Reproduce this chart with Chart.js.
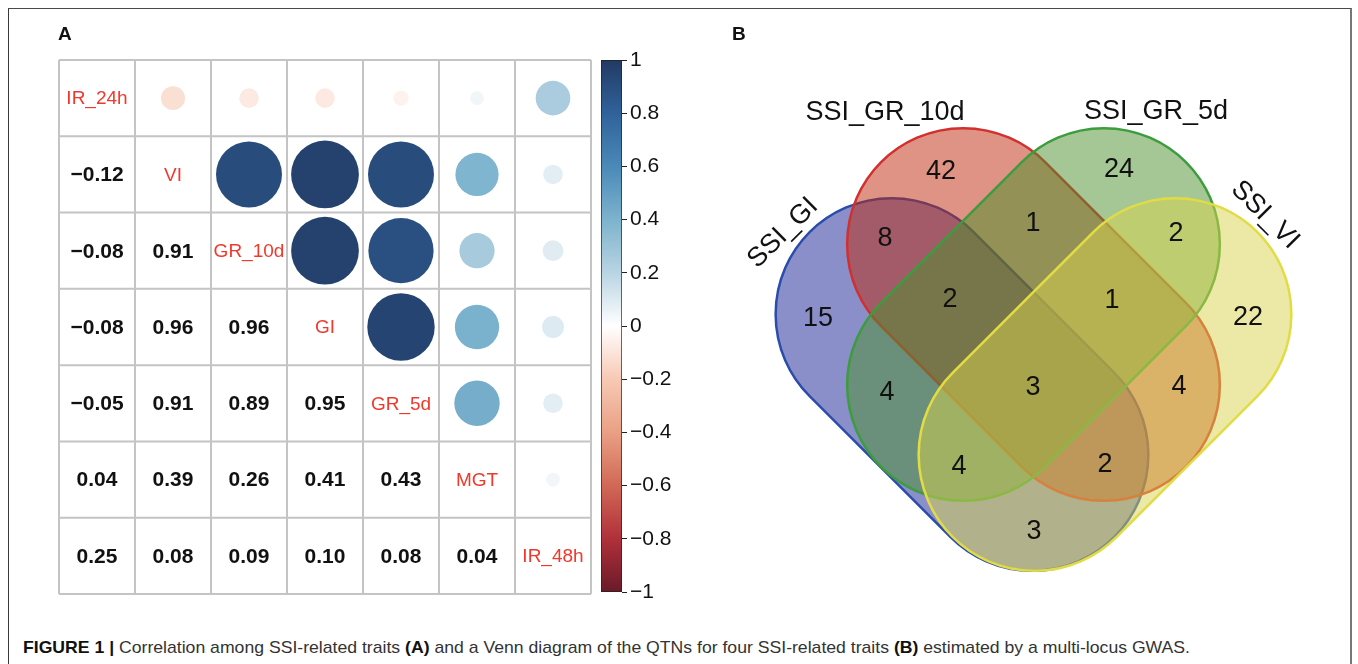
<!DOCTYPE html>
<html>
<head>
<meta charset="utf-8">
<script src="https://cdn.jsdelivr.net/npm/chart.js@4.4.1/dist/chart.umd.min.js"></script>
<style>
html, body { margin: 0; padding: 0; background: #fff; }
body { width: 1358px; height: 664px; position: relative; overflow: hidden; font-family: "Liberation Sans", Arial, sans-serif; }
#frame { position: absolute; left: 8px; top: 8px; width: 1341px; height: 680px; border-left: 1px solid #3a3a3a; border-top: 1px solid #4a4a4a; border-right: 2px solid #777; }
.tag { position: absolute; font-weight: bold; font-size: 19px; color: #111; z-index: 5; }
canvas { position: absolute; }
#corr { left: 0; top: 0; }
#cbar { left: 590px; top: 40px; }
#venn { left: 720px; top: 0; }
#caption { position: absolute; left: 23px; top: 638px; font-size: 17px; color: #333; white-space: nowrap; transform-origin: left center; }
#caption b { color: #111; }
</style>
</head>
<body>
<div id="frame"></div>
<div class="tag" style="left:58px;top:23px;">A</div>
<div class="tag" style="left:732px;top:23px;">B</div>
<canvas id="corr" width="600" height="620"></canvas>
<canvas id="cbar" width="90" height="575"></canvas>
<canvas id="venn" width="600" height="600"></canvas>
<div id="caption"><b>FIGURE 1 |</b> Correlation among SSI-related traits <b>(A)</b> and a Venn diagram of the QTNs for four SSI-related traits <b>(B)</b> estimated by a multi-locus GWAS.</div>

<script>
// ---- panel A data ----
const traits = ["IR_24h", "VI", "GR_10d", "GI", "GR_5d", "MGT", "IR_48h"];
const corrIR24 = [1, -0.12, -0.08, -0.08, -0.05, 0.04, 0.25];
const corrVI   = [-0.12, 1, 0.91, 0.96, 0.91, 0.39, 0.08];
const corrGR10 = [-0.08, 0.91, 1, 0.96, 0.89, 0.26, 0.09];
const corrGI   = [-0.08, 0.96, 0.96, 1, 0.95, 0.41, 0.10];
const corrGR5  = [-0.05, 0.91, 0.89, 0.95, 1, 0.43, 0.08];
const corrMGT  = [0.04, 0.39, 0.26, 0.41, 0.43, 1, 0.04];
const corrIR48 = [0.25, 0.08, 0.09, 0.10, 0.08, 0.04, 1];
const corrRows = [corrIR24, corrVI, corrGR10, corrGI, corrGR5, corrMGT, corrIR48];
const colorbarTicks = [-1, -0.8, -0.6, -0.4, -0.2, 0, 0.2, 0.4, 0.6, 0.8, 1];

// ---- panel B data ----
const vennSets = ["SSI_GI", "SSI_GR_10d", "SSI_GR_5d", "SSI_VI"];
const vennRegions = ["GI", "GR10", "GR5", "VI", "GI+GR10", "GR10+GR5", "GR5+VI", "GI+GR10+GR5",
  "GR10+GR5+VI", "GI+GR5", "all", "GR10+VI", "GI+GR5+VI", "GI+GR10+VI", "GI+VI"];
const vennCounts = [15, 42, 24, 22, 8, 1, 2, 2, 1, 4, 3, 4, 4, 2, 3];

// layout for the venn (chart units, 1 unit = 1px)
const vennLabelPos = [[98, 282], [221, 429], [399, 431], [528, 283], [165, 362], [313, 377], [456, 367],
  [230, 301], [392, 300], [167, 208], [313, 213], [459, 214], [239, 134], [385, 136], [314, 69]];
// capsule shapes: centre, axis angle, half length between cap centres, cap radius
const vennShapes = [
  { cx: 242, cy: 215.5, rot: 45, fill: "rgba(21,31,147,0.5)", line: "#2b4cab" },
  { cx: 313.5, cy: 285.5, rot: 45, fill: "rgba(190,40,10,0.5)", line: "#d2302f" },
  { cx: 313.5, cy: 285.5, rot: -45, fill: "rgba(75,143,43,0.5)", line: "#3d9c3d" },
  { cx: 385, cy: 215.5, rot: -45, fill: "rgba(217,211,77,0.5)", line: "#e2dc44" }
];
const capsuleHalf = 99.5, capsuleRadius = 116;
const vennSetPos = [[63, 367, -45], [165, 487, 0], [436, 488, 0], [545, 385, 45]];

// colour ramp for correlation
const palette = ["#6a1a28", "#b0303a", "#d16856", "#e9a084", "#f7c9b5", "#ffffff",
  "#b9d4e3", "#7cb3cd", "#4a89b8", "#30629a", "#223a64"];

function hexRgb(h) {
  return [parseInt(h.slice(1, 3), 16), parseInt(h.slice(3, 5), 16), parseInt(h.slice(5, 7), 16)];
}
function corrColor(v) {
  const t = (v + 1) / 2 * (palette.length - 1);
  const i = Math.min(Math.floor(t), palette.length - 2);
  const f = t - i;
  const a = hexRgb(palette[i]), b = hexRgb(palette[i + 1]);
  const c = a.map((x, k) => Math.round(x + (b[k] - x) * f));
  return "rgb(" + c.join(",") + ")";
}
function fmt(v) {
  const s = v.toFixed(2);
  return v < 0 ? "\u2212" + s.slice(1) : s;
}

// upper triangle -> circles
const circles = [];
corrRows.forEach((row, i) => {
  row.forEach((v, j) => { if (j > i) circles.push({ x: j, y: i, v: v }); });
});

const corrCells = {
  id: "corrCells",
  beforeDatasetsDraw(chart) {
    const { ctx, scales: { x, y } } = chart;
    const n = traits.length;
    ctx.save();
    ctx.strokeStyle = "#c4c4c4";
    ctx.lineWidth = 2;
    for (let k = 0; k <= n; k++) {
      const px = x.getPixelForValue(k - 0.5), py = y.getPixelForValue(k - 0.5);
      ctx.beginPath();
      ctx.moveTo(px, y.getPixelForValue(-0.5));
      ctx.lineTo(px, y.getPixelForValue(n - 0.5));
      ctx.moveTo(x.getPixelForValue(-0.5), py);
      ctx.lineTo(x.getPixelForValue(n - 0.5), py);
      ctx.stroke();
    }
    ctx.restore();
  },
  afterDatasetsDraw(chart) {
    const { ctx, scales: { x, y } } = chart;
    ctx.save();
    ctx.textAlign = "center";
    ctx.textBaseline = "middle";
    corrRows.forEach((row, i) => {
      row.forEach((v, j) => {
        const px = x.getPixelForValue(j), py = y.getPixelForValue(i);
        if (i === j) {
          ctx.font = "19px 'Liberation Sans', Arial";
          ctx.fillStyle = "#f0392b";
          ctx.fillText(traits[i], px, py + 1);
        } else if (j < i) {
          ctx.font = "bold 21px 'Liberation Sans', Arial";
          ctx.fillStyle = "#111";
          ctx.fillText(fmt(v), px, py + 1);
        }
      });
    });
    ctx.restore();
  }
};

new Chart(document.getElementById("corr"), {
  type: "scatter",
  data: {
    datasets: [{
      data: circles,
      pointRadius: (c) => {
        if (!c.raw) return 0;
        const xs = c.chart.scales.x;
        const cell = Math.abs(xs.getPixelForValue(1) - xs.getPixelForValue(0));
        return 0.455 * cell * Math.sqrt(Math.abs(c.raw.v));
      },
      pointBackgroundColor: (c) => c.raw ? corrColor(c.raw.v) : "#fff",
      pointBorderWidth: 0,
      pointHoverRadius: 0
    }]
  },
  options: {
    responsive: false,
    animation: false,
    events: [],
    layout: { padding: { left: 59, top: 60, right: 9, bottom: 26 } },
    scales: {
      x: { type: "linear", min: -0.5, max: 6.5, display: false },
      y: { type: "linear", min: -0.5, max: 6.5, reverse: true, display: false }
    },
    plugins: { legend: { display: false }, tooltip: { enabled: false } }
  },
  plugins: [corrCells]
});

// colour bar
new Chart(document.getElementById("cbar"), {
  type: "bar",
  data: {
    labels: ["r"],
    datasets: [{
      data: [[colorbarTicks[0], colorbarTicks[colorbarTicks.length - 1]]],
      backgroundColor: (c) => {
        const chart = c.chart;
        if (!chart.chartArea) return "#888";
        const ys = chart.scales.y;
        const g = chart.ctx.createLinearGradient(0, ys.getPixelForValue(-1), 0, ys.getPixelForValue(1));
        palette.forEach((col, i) => g.addColorStop(i / (palette.length - 1), col));
        return g;
      },
      borderColor: "#222",
      borderWidth: 1,
      borderSkipped: false,
      barPercentage: 1,
      categoryPercentage: 1
    }]
  },
  options: {
    responsive: false,
    animation: false,
    events: [],
    layout: { padding: { left: 11, top: 20, right: 0, bottom: 23 } },
    scales: {
      x: { display: false },
      y: {
        position: "right",
        min: -1, max: 1,
        afterFit: (s) => { s.width = 58; },
        afterBuildTicks: (s) => { s.ticks = colorbarTicks.map(v => ({ value: v })); },
        border: { display: false },
        grid: { drawOnChartArea: false, drawTicks: true, tickLength: 5, color: "#222", lineWidth: 1 },
        ticks: {
          padding: 3,
          color: "#111",
          font: { size: 21, family: "'Liberation Sans', Arial" },
          callback: (v) => {
            const r = Math.round(v * 10) / 10;
            if (r === 0) return "0";
            const s = Math.abs(r).toString();
            return r < 0 ? "\u2212" + s : s;
          }
        }
      }
    },
    plugins: { legend: { display: false }, tooltip: { enabled: false } }
  }
});

// venn diagram
function capsulePath(ctx, px, py, rotDeg, h, r) {
  ctx.save();
  ctx.translate(px, py);
  ctx.rotate(rotDeg * Math.PI / 180);
  ctx.beginPath();
  ctx.arc(h, 0, r, -Math.PI / 2, Math.PI / 2);
  ctx.lineTo(-h, r);
  ctx.arc(-h, 0, r, Math.PI / 2, Math.PI * 1.5);
  ctx.closePath();
  ctx.restore();
}

const vennDraw = {
  id: "vennDraw",
  beforeDatasetsDraw(chart) {
    const { ctx, scales: { x, y } } = chart;
    const unit = Math.abs(x.getPixelForValue(1) - x.getPixelForValue(0));
    ctx.save();
    vennShapes.forEach((s) => {
      capsulePath(ctx, x.getPixelForValue(s.cx), y.getPixelForValue(s.cy), s.rot,
        capsuleHalf * unit, capsuleRadius * unit);
      ctx.fillStyle = s.fill;
      ctx.fill();
      ctx.lineWidth = 2.5;
      ctx.strokeStyle = s.line;
      ctx.stroke();
    });
    ctx.restore();
  },
  afterDatasetsDraw(chart) {
    const { ctx, scales: { x, y } } = chart;
    const meta = chart.getDatasetMeta(0);
    ctx.save();
    ctx.textAlign = "center";
    ctx.textBaseline = "middle";
    ctx.fillStyle = "#111";
    ctx.font = "27px 'Liberation Sans', Arial";
    meta.data.forEach((pt, i) => {
      ctx.fillText(String(vennCounts[i]), pt.x, pt.y + 1);
    });
    vennSets.forEach((name, i) => {
      const p = vennSetPos[i];
      ctx.save();
      ctx.translate(x.getPixelForValue(p[0]), y.getPixelForValue(p[1]));
      ctx.rotate(p[2] * Math.PI / 180);
      ctx.fillText(name, 0, 0);
      ctx.restore();
    });
    ctx.restore();
  }
};

new Chart(document.getElementById("venn"), {
  type: "scatter",
  data: {
    datasets: [{
      data: vennLabelPos.map((p, i) => ({ x: p[0], y: p[1], region: vennRegions[i] })),
      pointRadius: 0,
      pointHoverRadius: 0
    }]
  },
  options: {
    responsive: false,
    animation: false,
    events: [],
    layout: { padding: 0 },
    scales: {
      x: { type: "linear", min: 0, max: 600, display: false },
      y: { type: "linear", min: 0, max: 600, display: false }
    },
    plugins: { legend: { display: false }, tooltip: { enabled: false } }
  },
  plugins: [vennDraw]
});

// squeeze caption to the printed width
const cap = document.getElementById("caption");
const w = cap.getBoundingClientRect().width;
cap.style.transform = "scaleX(" + (1167 / w) + ")";
</script>
</body>
</html>
